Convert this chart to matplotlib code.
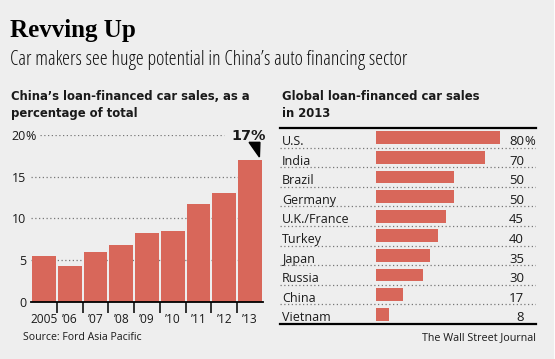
import matplotlib
matplotlib.use("Agg")
import matplotlib.pyplot as plt
from matplotlib import font_manager
from matplotlib.patches import Polygon, Rectangle
import numpy as np

# Data
years       = ["2005", "\u201906", "\u201907", "\u201908", "\u201909", "\u201910", "\u201911", "\u201912", "\u201913"]
china_share = [5.5, 4.3, 6.0, 6.8, 8.2, 8.5, 11.7, 13.1, 17.0]
countries   = ["U.S.", "India", "Brazil", "Germany", "U.K./France", "Turkey", "Japan", "Russia", "China", "Vietnam"]
loan_share  = [80, 70, 50, 50, 45, 40, 35, 30, 17, 8]
y_ticks     = [0, 5, 10, 15, 20]

BAR  = "#d8675a"
BG   = "#eeeeee"
INK  = "#1a1a1a"
DOTS = "#777777"

W, H = 555, 359


def wt(w):
    return font_manager.weight_dict.get(w, w) if isinstance(w, str) else w


# pick a narrow sans if one is installed (WSJ uses a narrow face)
fonts = font_manager.fontManager.ttflist
NARROW = ("condensed", "semi-condensed")
SANS, STRETCH = "Roboto", "normal"
BOLD_FAM, BOLD_STRETCH = "Roboto", "normal"
if any(f.name == "Liberation Sans Narrow" for f in fonts):
    SANS = BOLD_FAM = "Liberation Sans Narrow"
else:
    for fam in ["Noto Sans", "Open Sans", "DejaVu Sans"]:
        if any(f.name == fam and str(f.stretch) in NARROW for f in fonts):
            SANS, STRETCH = fam, "semi-condensed"
            break
    for fam in ["Noto Sans", "Open Sans", "DejaVu Sans"]:
        if any(f.name == fam and str(f.stretch) in NARROW and wt(f.weight) >= 600 for f in fonts):
            BOLD_FAM, BOLD_STRETCH = fam, "semi-condensed"
            break
    else:
        BOLD_FAM = SANS
SERIF = "Liberation Serif"
plt.rcParams["font.family"] = [SANS, "DejaVu Sans"]
plt.rcParams["font.stretch"] = STRETCH
plt.rcParams["text.color"] = INK

fig = plt.figure(figsize=(W / 100, H / 100), dpi=100)
fig.patch.set_facecolor("white")
fig.add_artist(Rectangle((0, 0), 553 / W, 1, transform=fig.transFigure, color=BG, zorder=-10))


def ftext(x, y, s, **kw):
    # place text by pixel position (baseline)
    return fig.text(x / W, 1 - y / H, s, va="baseline", **kw)


def fit(t, width):
    r = fig.canvas.get_renderer()
    w = t.get_window_extent(r).width
    t.set_fontsize(t.get_fontsize() * width / w)
    return t.get_fontsize()


# Headings
t = ftext(10.5, 37.3, "Revving Up", family=SERIF, fontweight="bold", fontsize=18, color="black",
          fontstretch="normal")
fit(t, 126)
t = ftext(10, 65, "Car makers see huge potential in China\u2019s auto financing sector", fontsize=11.5,
          fontstretch="condensed", color="#111111")
fit(t, 401)

hkw = dict(fontweight="bold", family=[BOLD_FAM, "DejaVu Sans"], fontstretch=BOLD_STRETCH)
t1 = ftext(10.7, 99.5, "China\u2019s loan-financed car sales, as a", fontsize=11, **hkw)
hs = fit(t1, 237)
ftext(10.7, 116.7, "percentage of total", fontsize=hs, **hkw)
ftext(282, 99.5, "Global loan-financed car sales", fontsize=hs, **hkw)
ftext(282, 116.7, "in 2013", fontsize=hs, **hkw)

small = 9
t = ftext(23, 340, "Source: Ford Asia Pacific", fontsize=small)
fit(t, 119)
t = ftext(536.5, 340, "The Wall Street Journal", fontsize=small, ha="right")
fit(t, 115.5)

# Left chart: China share by year
ax1 = fig.add_axes([31 / W, 1 - 301.7 / H, 232 / W, 166.7 / H])
ax1.set_facecolor("none")
x = np.arange(len(years))
ax1.bar(x, china_share, width=0.92, color=BAR, zorder=2)
ax1.set_xlim(-0.5, len(years) - 0.5)
ax1.set_ylim(0, 20)
for v in y_ticks[1:-1]:
    ax1.axhline(v, color=DOTS, lw=0.9, ls=(0, (1, 2)), zorder=1)
ax1.axhline(y_ticks[-1], xmin=0.04, xmax=0.83, color=DOTS, lw=0.9, ls=(0, (1, 2)), zorder=1)
for s in ["top", "right", "left"]:
    ax1.spines[s].set_visible(False)
ax1.spines["bottom"].set_linewidth(1.3)
ax1.spines["bottom"].set_color("black")
ax1.spines["bottom"].set_zorder(3)

ax1.set_yticks(y_ticks, [str(v) for v in y_ticks])
ax1.tick_params(axis="y", length=0, pad=3.6, labelsize=small, labelcolor=INK)
ax1.text(-0.025, y_ticks[-1], "%", transform=ax1.get_yaxis_transform(),
         ha="left", va="center_baseline", fontsize=small)
ax1.set_xticks(x, years)
ax1.tick_params(axis="x", which="major", length=0, pad=8, labelsize=8.6, labelcolor=INK)
ax1.set_xticks(np.arange(0.5, len(years) - 1, 1), minor=True)
ax1.tick_params(axis="x", which="minor", length=8, width=1.1, color="black", direction="out")

# callout on last bar
last = len(china_share) - 1
top = china_share[last]
ax1.text(last - 0.05, top + 2.35, "%d%%" % round(top), ha="center", va="baseline",
         fontsize=small * 1.15, **hkw, clip_on=False)
ax1.add_patch(Polygon([(last - 0.04, top + 2.12), (last + 0.38, top + 2.12), (last + 0.36, top + 0.36)],
                      closed=True, color="black", clip_on=False, zorder=4))

# Right chart: global loan-financed sales
ax2 = fig.add_axes([280 / W, 1 - 324 / H, 256 / W, 196 / H])
ax2.set_facecolor("none")
rows = np.arange(len(countries))
ax2.barh(rows, loan_share, height=0.65, color=BAR, zorder=2)
ax2.set_xlim(-96.3 / 1.546, (256 - 96.3) / 1.546)
ax2.set_ylim(len(countries) - 0.5, -0.5)
for k in rows[:-1]:
    ax2.axhline(k + 0.5, color=DOTS, lw=0.9, ls=(0, (1, 2)), zorder=1)
ax2.set_xticks([])
ax2.set_yticks([])
for s in ["left", "right"]:
    ax2.spines[s].set_visible(False)
for s in ["top", "bottom"]:
    ax2.spines[s].set_linewidth(1.6)
    ax2.spines[s].set_color("black")

tr = ax2.get_yaxis_transform()
for i, (name, v) in enumerate(zip(countries, loan_share)):
    ax2.text(0.008, i + 0.37, name, transform=tr, va="baseline", fontsize=small)
    ax2.text(0.953, i + 0.37, str(v), transform=tr, va="baseline", ha="right",
             fontsize=small * 1.05, fontweight="medium")
    if i == 0:
        ax2.text(0.953, i + 0.37, "%", transform=tr, va="baseline", ha="left",
                 fontsize=small * 1.05)

fig.savefig("out.png", dpi=100, facecolor=fig.get_facecolor())
